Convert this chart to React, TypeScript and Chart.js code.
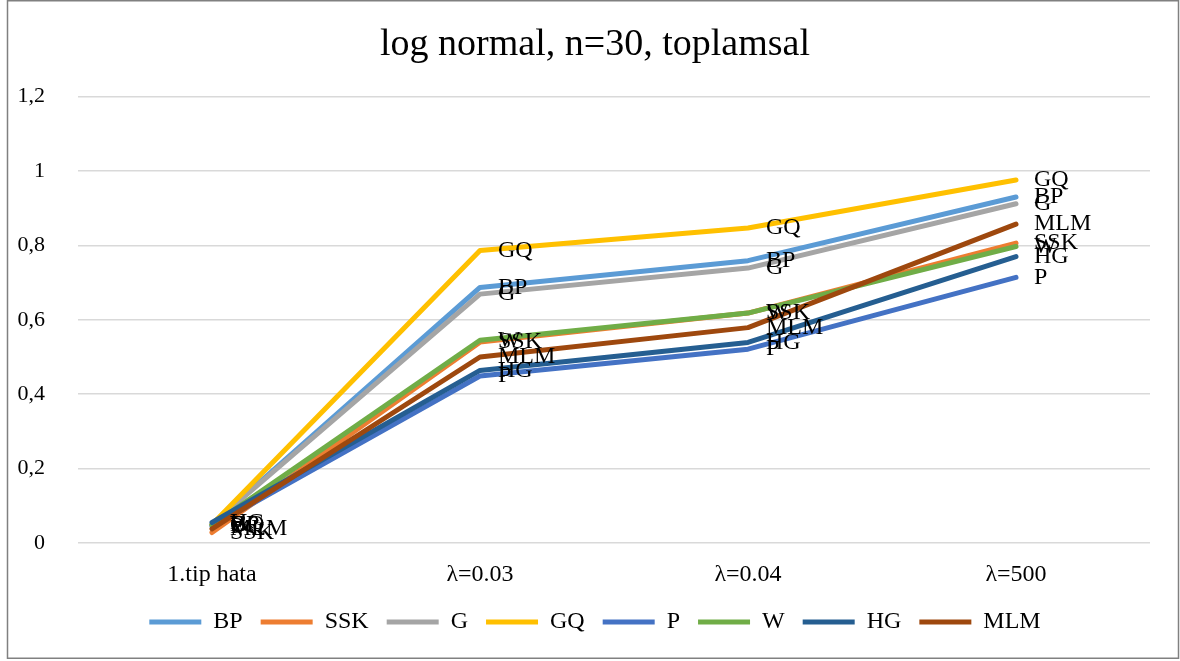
import React, { useEffect, useRef } from "react";
import { Chart, registerables } from "chart.js";

Chart.register(...registerables);

// ---- data ----
const categories = ["1.tip hata", "λ=0.03", "λ=0.04", "λ=500"];
const seriesNames = ["BP", "SSK", "G", "GQ", "P", "W", "HG", "MLM"];
const BP = [0.05, 0.687, 0.759, 0.93];
const SSK = [0.028, 0.54, 0.618, 0.806];
const G = [0.05, 0.669, 0.739, 0.912];
const GQ = [0.05, 0.786, 0.847, 0.976];
const P = [0.045, 0.449, 0.521, 0.714];
const W = [0.048, 0.545, 0.618, 0.797];
const HG = [0.055, 0.464, 0.539, 0.77];
const MLM = [0.038, 0.5, 0.579, 0.857];
const seriesValues = [BP, SSK, G, GQ, P, W, HG, MLM];
const yTicks = [0, 0.2, 0.4, 0.6, 0.8, 1, 1.2];
const titleText = "log normal, n=30, toplamsal";

const colors = ["#5B9BD5", "#ED7D31", "#A5A5A5", "#FFC000", "#4472C4", "#70AD47", "#255E91", "#9E480E"];
const FONT = '"Liberation Serif", "Times New Roman", serif';

const framePlugin = {
  id: "frame",
  beforeDraw(chart: any) {
    const ctx = chart.ctx;
    ctx.save();
    ctx.fillStyle = "#ffffff";
    ctx.fillRect(0, 0, chart.width, chart.height);
    ctx.strokeStyle = "#808080";
    ctx.lineWidth = 1.5;
    ctx.strokeRect(7.5, 0.75, 1171, 657.5);
    ctx.restore();
  },
};

const labelPlugin = {
  id: "seriesLabels",
  afterDatasetsDraw(chart: any) {
    const ctx = chart.ctx;
    ctx.save();
    ctx.font = `24px ${FONT}`;
    ctx.fillStyle = "#000000";
    ctx.textAlign = "left";
    ctx.textBaseline = "middle";
    chart.data.datasets.forEach((ds: any, i: number) => {
      const meta = chart.getDatasetMeta(i);
      meta.data.forEach((pt: any) => {
        ctx.fillText(ds.label, pt.x + 18, pt.y);
      });
    });
    ctx.restore();
  },
};

export default function App() {
  const ref = useRef<HTMLCanvasElement | null>(null);
  useEffect(() => {
    document.body.style.margin = "0";
    const canvas = ref.current;
    if (!canvas) return;
    const chart = new Chart(canvas, {
      type: "line",
      data: {
        labels: categories,
        datasets: seriesNames.map((name, i) => ({
          label: name,
          data: seriesValues[i],
          borderColor: colors[i],
          backgroundColor: colors[i],
          borderWidth: 5,
          pointRadius: 0,
          pointHoverRadius: 0,
          tension: 0,
          borderJoinStyle: "round" as const,
          borderCapStyle: "round" as const,
          order: seriesNames.length - i,
          fill: false,
        })),
      },
      options: {
        animation: false,
        responsive: false,
        devicePixelRatio: 1,
        layout: { padding: { left: 18, right: 8, top: 3, bottom: 17 } },
        plugins: {
          tooltip: { enabled: false },
          title: {
            display: true,
            text: titleText,
            color: "#000000",
            font: { family: FONT, size: 38, weight: "normal" },
            padding: { top: 19, bottom: 29 },
          },
          legend: {
            position: "bottom",
            labels: {
              color: "#000000",
              font: { family: FONT, size: 24 },
              boxWidth: 52,
              boxHeight: 5,
              padding: 18,
              sort: (a: any, b: any) => a.datasetIndex - b.datasetIndex,
              generateLabels: (ch: any) =>
                ch.data.datasets.map((ds: any, i: number) => ({
                  text: ds.label,
                  fillStyle: colors[i],
                  strokeStyle: colors[i],
                  lineWidth: 0,
                  hidden: false,
                  datasetIndex: i,
                  fontColor: "#000000",
                })),
            },
          },
        },
        scales: {
          x: {
            offset: true,
            afterFit: (s: any) => {
              s.height = 49;
            },
            grid: { display: false, drawTicks: false },
            border: { display: false },
            ticks: { color: "#000000", font: { family: FONT, size: 24 }, padding: 17 },
          },
          y: {
            min: 0,
            max: 1.2,
            afterFit: (s: any) => {
              s.width = 60;
            },
            afterBuildTicks: (s: any) => {
              s.ticks = yTicks.map((v) => ({ value: v }));
            },
            grid: { color: "#d9d9d9", lineWidth: 1.5, drawTicks: false },
            border: { display: false },
            ticks: {
              color: "#000000",
              font: { family: FONT, size: 22 },
              padding: 33,
              callback: (v: any) => String(Math.round(Number(v) * 10) / 10).replace(".", ","),
            },
          },
          yRight: {
            position: "right",
            display: true,
            afterFit: (s: any) => {
              s.width = 22;
            },
            grid: { display: false, drawTicks: false },
            border: { display: false },
            ticks: { display: false },
          },
        },
      },
      plugins: [framePlugin, labelPlugin],
    });
    return () => chart.destroy();
  }, []);
  return (
    <div style={{ position: "relative", width: 1180, height: 661 }}>
      <canvas ref={ref} width={1180} height={661} style={{ display: "block" }} />
    </div>
  );
}
